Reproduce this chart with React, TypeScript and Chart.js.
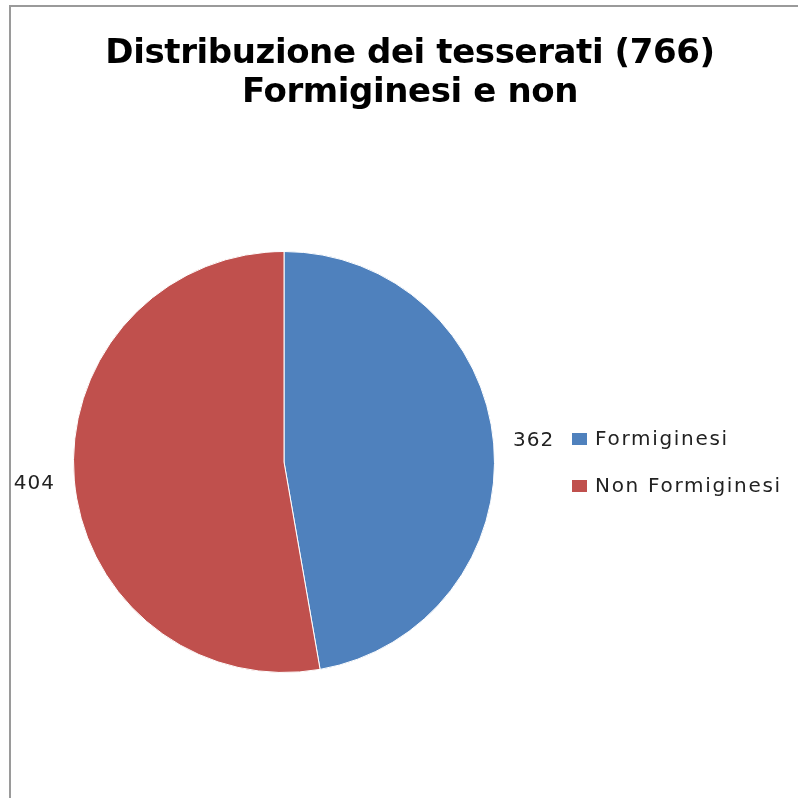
import React, { useEffect, useRef } from "react";
import { Chart, registerables } from "chart.js";

Chart.register(...registerables);

const titleLines = ["Distribuzione dei tesserati (766)", "Formiginesi e non"];
const categories = ["Formiginesi", "Non Formiginesi"];
const values = [362, 404];
const colors = ["#4F81BD", "#C0504D"];

const overlayPlugin = {
  id: "overlay",
  afterDraw(chart: any) {
    const ctx = chart.ctx as CanvasRenderingContext2D;
    // frame
    ctx.save();
    ctx.strokeStyle = "#9a9a9a";
    ctx.lineWidth = 2;
    ctx.beginPath();
    ctx.moveTo(10, 798);
    ctx.lineTo(10, 6);
    ctx.lineTo(798, 6);
    ctx.stroke();
    ctx.restore();

    // title
    ctx.save();
    ctx.fillStyle = "#000";
    ctx.font = "bold 34px 'DejaVu Sans'";
    ctx.textAlign = "center";
    ctx.textBaseline = "alphabetic";
    (ctx as any).letterSpacing = "-0.4px";
    ctx.fillText(titleLines[0], 410, 63);
    ctx.fillText(titleLines[1], 410, 102);
    ctx.restore();

    // data labels
    const meta = chart.getDatasetMeta(0);
    ctx.save();
    ctx.fillStyle = "#222";
    ctx.font = "20px 'DejaVu Sans'";
    (ctx as any).letterSpacing = "1px";
    ctx.textAlign = "center";
    ctx.textBaseline = "middle";
    meta.data.forEach((arc: any, i: number) => {
      const p = arc.getProps(["x", "y", "startAngle", "endAngle", "outerRadius"], true);
      const mid = (p.startAngle + p.endAngle) / 2;
      const r = p.outerRadius + 40;
      ctx.fillText(String(values[i]), p.x + Math.cos(mid) * r, p.y + Math.sin(mid) * r);
    });
    ctx.restore();

    // legend
    ctx.save();
    ctx.font = "20px 'DejaVu Sans'";
    (ctx as any).letterSpacing = "1.7px";
    ctx.textAlign = "left";
    ctx.textBaseline = "middle";
    categories.forEach((c, i) => {
      const cy = 439 + i * 47;
      ctx.fillStyle = colors[i];
      ctx.fillRect(572, cy - 6, 15, 12);
      ctx.fillStyle = "#222";
      ctx.fillText(c, 595, cy + 1);
    });
    ctx.restore();
  },
};

export default function App() {
  const ref = useRef<HTMLCanvasElement>(null);
  useEffect(() => {
    if (!ref.current) return;
    const chart = new Chart(ref.current, {
      type: "pie",
      data: {
        labels: categories,
        datasets: [
          {
            data: values,
            backgroundColor: colors,
            borderColor: "#ffffff",
            borderWidth: 1,
          },
        ],
      },
      options: {
        responsive: false,
        animation: false,
        devicePixelRatio: 1,
        layout: { padding: { left: 73, right: 303, top: 251, bottom: 125 } },
        plugins: {
          legend: { display: false },
          title: { display: false },
          tooltip: { enabled: false },
        },
      },
      plugins: [overlayPlugin],
    });
    return () => chart.destroy();
  }, []);
  return (
    <div style={{ position: "absolute", left: 0, top: 0, width: 798, height: 798, background: "#fff" }}>
      <canvas ref={ref} width={798} height={798} />
    </div>
  );
}
